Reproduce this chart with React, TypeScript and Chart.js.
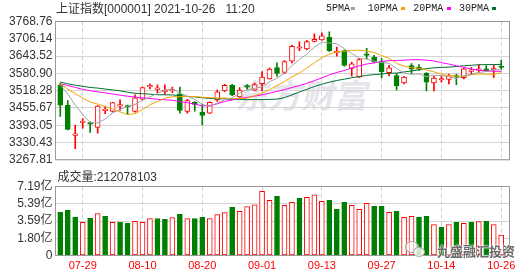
import React, { useEffect, useRef } from 'react';
import { Chart, registerables } from 'chart.js';

Chart.register(...registerables);

const dates = [
  '07-26', '07-27', '07-28', '07-29', '07-30', '08-02', '08-03', '08-04', '08-05', '08-06',
  '08-09', '08-10', '08-11', '08-12', '08-13', '08-16', '08-17', '08-18', '08-19', '08-20',
  '08-23', '08-24', '08-25', '08-26', '08-27', '08-30', '08-31', '09-01', '09-02', '09-03',
  '09-06', '09-07', '09-08', '09-09', '09-10', '09-13', '09-14', '09-15', '09-16', '09-17',
  '09-22', '09-23', '09-24', '09-27', '09-28', '09-29', '09-30', '10-08', '10-11', '10-12',
  '10-13', '10-14', '10-15', '10-18', '10-19', '10-20', '10-21', '10-22', '10-25', '10-26',
];
const xTickLabels = ['07-29', '08-10', '08-20', '09-01', '09-13', '09-27', '10-14', '10-26'];

const openP = [
  3538, 3466, 3356, 3403, 3400, 3385, 3446, 3443, 3462, 3464,
  3443, 3487, 3532, 3523, 3515, 3517, 3507, 3443, 3476, 3440,
  3437, 3485, 3517, 3538, 3496, 3535, 3520, 3544, 3561, 3602,
  3584, 3625, 3672, 3669, 3697, 3702, 3711, 3655, 3663, 3599,
  3567, 3652, 3640, 3625, 3583, 3573, 3546, 3609, 3603, 3581,
  3546, 3557, 3559, 3570, 3565, 3588, 3592, 3597, 3593, 3605,
];
const highP = [
  3546, 3482, 3394, 3417, 3405, 3464, 3461, 3476, 3485, 3466,
  3503, 3531, 3543, 3539, 3539, 3531, 3531, 3487, 3479, 3470,
  3478, 3520, 3541, 3541, 3529, 3540, 3546, 3587, 3601, 3619,
  3627, 3683, 3695, 3701, 3724, 3728, 3731, 3676, 3665, 3622,
  3635, 3672, 3646, 3634, 3610, 3581, 3570, 3616, 3613, 3584,
  3570, 3570, 3578, 3578, 3599, 3602, 3613, 3609, 3610, 3628,
];
const lowP = [
  3425, 3376, 3308, 3382, 3367, 3364, 3435, 3440, 3447, 3432,
  3440, 3485, 3525, 3511, 3505, 3511, 3437, 3437, 3444, 3394,
  3435, 3479, 3515, 3500, 3494, 3523, 3518, 3517, 3560, 3570,
  3580, 3619, 3663, 3666, 3695, 3700, 3660, 3643, 3607, 3571,
  3566, 3634, 3619, 3564, 3572, 3521, 3543, 3581, 3592, 3517,
  3517, 3549, 3543, 3540, 3561, 3576, 3585, 3588, 3565, 3595,
];
const closeP = [
  3466, 3378, 3361, 3408, 3397, 3462, 3449, 3475, 3465, 3459,
  3492, 3529, 3535, 3526, 3517, 3519, 3447, 3482, 3468, 3429,
  3476, 3514, 3538, 3503, 3520, 3531, 3540, 3567, 3596, 3581,
  3624, 3679, 3675, 3696, 3704, 3717, 3663, 3660, 3610, 3615,
  3631, 3646, 3622, 3587, 3601, 3535, 3567, 3596, 3596, 3549,
  3564, 3560, 3573, 3567, 3597, 3590, 3595, 3589, 3595, 3602,
];

const ma5 = [
  3538.2, 3506.4, 3466, 3432.6, 3402, 3401.2, 3415.4, 3438.2, 3449.6, 3462,
  3468, 3484, 3496, 3508.2, 3519.8, 3525.2, 3508.8, 3498.2, 3486.6, 3469,
  3460.4, 3473.8, 3485, 3492, 3510.2, 3521.2, 3526.4, 3532.2, 3550.8, 3563,
  3581.6, 3609.4, 3631, 3651, 3675.6, 3694.2, 3691, 3688, 3670.8, 3653,
  3635.8, 3632.4, 3624.8, 3620.2, 3617.4, 3598.2, 3582.4, 3577.2, 3579, 3568.6,
  3574.4, 3573, 3568.4, 3562.6, 3572.2, 3577.4, 3584.4, 3587.4, 3593, 3594,
];
const ma10 = [
  3543, 3524.1, 3507.3, 3491.6, 3477.4, 3469.7, 3460.9, 3452.1, 3441.1, 3432,
  3434.6, 3449.7, 3467.1, 3478.9, 3490.9, 3496.6, 3496.4, 3497.1, 3497.4, 3494.4,
  3492.8, 3491.3, 3491.6, 3489.3, 3489.6, 3490.8, 3500.1, 3508.6, 3521.4, 3536.6,
  3551.4, 3567.9, 3581.6, 3600.9, 3619.3, 3637.9, 3650.2, 3659.5, 3660.9, 3664.3,
  3665, 3661.7, 3656.4, 3645.5, 3635.2, 3617, 3607.4, 3601, 3599.6, 3593,
  3586.3, 3577.7, 3572.8, 3570.8, 3570.4, 3575.9, 3578.7, 3577.9, 3577.8, 3583.1,
];
const ma20 = [
  3543, 3537, 3530, 3523, 3518, 3514, 3510, 3506, 3502, 3498,
  3495, 3492, 3490, 3487, 3485, 3483.5, 3478.7, 3474.6, 3469.3, 3463.2,
  3463.7, 3470.5, 3479.4, 3484.1, 3490.3, 3493.7, 3498.3, 3502.9, 3509.4, 3515.5,
  3522.1, 3529.6, 3536.6, 3545.1, 3554.5, 3564.4, 3575.2, 3584.1, 3591.2, 3600.5,
  3608.2, 3614.8, 3619, 3623.2, 3627.3, 3627.5, 3628.8, 3630.3, 3630.3, 3628.7,
  3625.7, 3619.7, 3614.6, 3608.2, 3602.8, 3596.5, 3593.1, 3589.5, 3588.7, 3588.1,
];
const ma30 = [
  3549.2, 3543.2, 3538, 3534.1, 3529.8, 3527.6, 3524, 3521, 3517.6, 3512.6,
  3508.8, 3507.3, 3505.5, 3503.4, 3503.3, 3502.8, 3500, 3497.6, 3495.7, 3492.5,
  3490.1, 3488.4, 3488.7, 3486.6, 3486, 3485.7, 3485.8, 3485.9, 3486.6, 3487.7,
  3492.9, 3503, 3513.4, 3523, 3533.3, 3541.8, 3548.9, 3555.1, 3559.9, 3565.1,
  3569.7, 3573.6, 3576.5, 3578.6, 3581.4, 3581.9, 3585.9, 3589.7, 3594, 3598,
  3600.9, 3602.4, 3603.6, 3605.7, 3608.3, 3610.3, 3612.1, 3612.8, 3612.8, 3613.5,
];

// volume in 亿 (1e8 shares)
const volume = [
  4.50, 4.71, 3.98, 3.46, 3.88, 4.36, 4.08, 3.46, 3.46, 3.36,
  3.56, 3.46, 3.84, 3.84, 3.77, 3.94, 4.29, 3.84, 3.84, 3.98,
  3.84, 4.26, 4.46, 5.02, 4.60, 5.09, 5.29, 6.68, 5.74, 6.16,
  5.22, 5.54, 5.95, 6.06, 6.33, 5.64, 5.74, 4.81, 5.54, 5.22,
  4.81, 5.43, 5.12, 5.12, 4.50, 4.60, 3.98, 4.08, 3.98, 4.08,
  3.22, 2.94, 3.22, 3.46, 3.36, 3.46, 3.53, 3.56, 3.22, 2.12,
];
// R = up vs previous close, G = down
const volDir = ('GGGRGRGRGG' + 'RRRGGRGRGG' + 'RRRGRRRRRG' + 'RRGRRRGGGR' + 'RRGGRGRRGG' + 'RGRGRGRGRR').split('');

const priceTicks = [3267.81, 3330.43, 3393.05, 3455.67, 3518.28, 3580.9, 3643.52, 3706.14, 3768.76];
const priceTickLabels = ['3267.81', '3330.43', '3393.05', '3455.67', '3518.28', '3580.90', '3643.52', '3706.14', '3768.76'];
const volTicks = [0, 1.8, 3.59, 5.39, 7.19];
const volTickLabels = ['0', '1.80亿', '3.59亿', '5.39亿', '7.19亿'];

const maNames = ['5PMA', '10PMA', '20PMA', '30PMA'];
const maSeries = [ma5, ma10, ma20, ma30];
const maColors = ['#a3a3a3', '#f5a300', '#ff00ff', '#00702f'];

const RED = '#ff0000';
const GREEN = '#008000';
const X_MIN = -0.64;
const X_MAX = 60.11;
const FONT = "'Liberation Sans', 'Noto Sans CJK SC', sans-serif";

const tickIdx = xTickLabels.map((d) => dates.indexOf(d));

const framePlugin = {
  id: 'frame',
  afterDraw(chart: any) {
    const { ctx, chartArea } = chart;
    ctx.save();
    ctx.strokeStyle = '#999999';
    ctx.lineWidth = 1;
    ctx.strokeRect(chartArea.left, chartArea.top, chartArea.right - chartArea.left, chartArea.bottom - chartArea.top);
    ctx.restore();
  },
};

function xScale(showLabels: boolean, height: number) {
  return {
    type: 'linear',
    min: X_MIN,
    max: X_MAX,
    offset: false,
    afterBuildTicks: (s: any) => {
      s.ticks = tickIdx.map((v) => ({ value: v }));
    },
    afterFit: (s: any) => {
      s.height = height;
    },
    ticks: {
      display: showLabels,
      autoSkip: false,
      maxRotation: 0,
      padding: 4,
      color: RED,
      font: { family: FONT, size: 11 },
      callback: (v: any) => dates[v],
    },
    grid: { color: '#cfcfcf', lineWidth: 1, drawTicks: false, offset: false },
    border: { display: false, dash: [4, 3] },
  };
}

function yScale(ticks: number[], labels: string[]) {
  return {
    type: 'linear',
    min: ticks[0],
    max: ticks[ticks.length - 1],
    beginAtZero: false,
    afterBuildTicks: (s: any) => {
      s.ticks = ticks.map((v) => ({ value: v }));
    },
    afterFit: (s: any) => {
      s.width = 55.5;
    },
    ticks: {
      autoSkip: false,
      padding: 3,
      color: '#333333',
      font: { family: FONT, size: 12 },
      callback: (_v: any, i: number) => labels[i],
    },
    grid: { color: '#d4d4d4', drawTicks: false },
    border: { display: false },
  };
}

export default function App() {
  const priceRef = useRef<HTMLCanvasElement>(null);
  const volRef = useRef<HTMLCanvasElement>(null);

  useEffect(() => {
    document.body.style.margin = '0';
    Chart.defaults.font.family = FONT;
    const idx = closeP.map((_, i) => i);
    const up = idx.map((i) => closeP[i] >= openP[i]);

    const lineSets: any[] = maSeries.map((s, k) => ({
      type: 'line',
      label: maNames[k],
      data: s.map((v, i) => ({ x: i, y: v })),
      borderColor: maColors[k],
      borderWidth: 1,
      pointRadius: 0,
      tension: 0,
      order: 0,
    }));

    const main = new Chart(priceRef.current as HTMLCanvasElement, {
      type: 'bar',
      data: {
        datasets: [
          ...lineSets,
          {
            type: 'bar',
            label: 'body',
            data: idx.map((i) => ({ x: i, y: [openP[i], closeP[i]] })),
            backgroundColor: idx.map((i) => (up[i] ? '#ffffff' : GREEN)),
            borderColor: idx.map((i) => (up[i] ? RED : GREEN)),
            borderWidth: 1,
            borderSkipped: false,
            barThickness: 5,
            minBarLength: 1.5,
            grouped: false,
            order: 5,
          },
          {
            type: 'bar',
            label: 'wick',
            data: idx.map((i) => ({ x: i, y: [lowP[i], highP[i]] })),
            backgroundColor: idx.map((i) => (up[i] ? RED : GREEN)),
            borderWidth: 0,
            barThickness: 1,
            grouped: false,
            order: 6,
          },
        ],
      } as any,
      options: {
        responsive: false,
        animation: false,
        devicePixelRatio: 1,
        layout: { padding: { left: 0, top: 21.5, right: 20.5, bottom: 5.5 } },
        plugins: { legend: { display: false }, tooltip: { enabled: false } },
        scales: {
          x: xScale(false, 0) as any,
          y: yScale(priceTicks, priceTickLabels) as any,
        },
      } as any,
      plugins: [framePlugin],
    });

    const vol = new Chart(volRef.current as HTMLCanvasElement, {
      type: 'bar',
      data: {
        datasets: [
          {
            label: 'volume',
            data: volume.map((v, i) => ({ x: i, y: v })),
            backgroundColor: volDir.map((d) => (d === 'R' ? '#ffffff' : GREEN)),
            borderColor: volDir.map((d) => (d === 'R' ? RED : GREEN)),
            borderWidth: 1,
            borderSkipped: false,
            barThickness: 5,
            grouped: false,
          },
        ],
      } as any,
      options: {
        responsive: false,
        animation: false,
        devicePixelRatio: 1,
        layout: { padding: { left: 0, top: 16.5, right: 20.5, bottom: 0 } },
        plugins: { legend: { display: false }, tooltip: { enabled: false } },
        scales: {
          x: xScale(true, 20.5) as any,
          y: yScale(volTicks, volTickLabels) as any,
        },
      } as any,
      plugins: [framePlugin],
    });

    return () => {
      main.destroy();
      vol.destroy();
    };
  }, []);

  const legendText = [326, 367.7, 413.3, 459];
  const legendMark = [351.3, 401, 446.7, 492.3];

  return (
    <div style={{ position: 'relative', width: 530, height: 276, background: '#fff', overflow: 'hidden' }}>
      <div
        style={{
          position: 'absolute', left: 238, top: 76, fontSize: 33, lineHeight: '36px', fontWeight: 700,
          fontFamily: "'Noto Sans CJK SC'", color: '#e5e5eb', transform: 'skewX(-12deg)', whiteSpace: 'pre',
        }}
      >
        东方财富
      </div>
      <canvas ref={priceRef} width={530} height={170} style={{ position: 'absolute', left: 0, top: 0, display: 'block' }} />
      <canvas ref={volRef} width={530} height={106} style={{ position: 'absolute', left: 0, top: 170, display: 'block' }} />
      <div
        style={{
          position: 'absolute', left: 56, top: 2.5, fontSize: 12, lineHeight: '12px', color: '#333',
          fontFamily: FONT, whiteSpace: 'pre',
        }}
      >
        上证指数[000001] 2021-10-26   11:20
      </div>
      {maNames.map((n, k) => (
        <React.Fragment key={n}>
          <div
            style={{
              position: 'absolute', left: legendText[k], top: 4, fontSize: 10, lineHeight: '10px',
              fontFamily: "'Liberation Mono'", color: '#222', whiteSpace: 'pre',
            }}
          >
            {n}
          </div>
          <div style={{ position: 'absolute', left: legendMark[k], top: 7, width: 4, height: 3, background: maColors[k] }} />
        </React.Fragment>
      ))}
      <div
        style={{
          position: 'absolute', left: 57.5, top: 170.5, fontSize: 12, lineHeight: '12px', color: '#333',
          fontFamily: FONT, whiteSpace: 'pre',
        }}
      >
        成交量:212078103
      </div>
      <div style={{ position: 'absolute', left: 405, top: 241, width: 12, height: 10, border: '1.5px solid #aaa', borderRadius: '50%', background: 'rgba(255,255,255,0.6)' }} />
      <div style={{ position: 'absolute', left: 413, top: 247, width: 10, height: 8, border: '1.5px solid #aaa', borderRadius: '50%', background: 'rgba(255,255,255,0.8)' }} />
      <div
        style={{
          position: 'absolute', left: 437, top: 244, fontSize: 13, lineHeight: '13px', fontWeight: 700,
          fontFamily: "'Noto Sans CJK SC'", color: '#6a6a6a', whiteSpace: 'pre',
          textShadow: '0 0 2px #fff, 0 0 2px #fff, 0 0 1px #fff',
        }}
      >
        九盛融汇投资
      </div>
    </div>
  );
}
